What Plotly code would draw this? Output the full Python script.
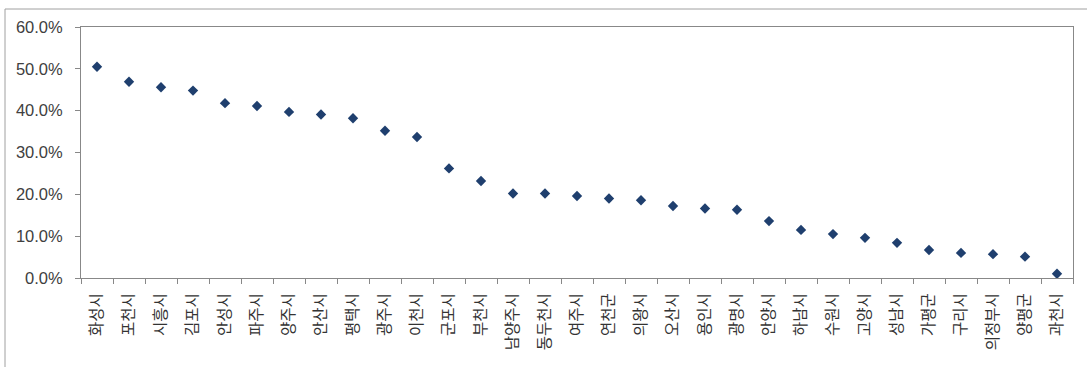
import plotly.graph_objects as go

cities = ["화성시", "포천시", "시흥시", "김포시", "안성시", "파주시", "양주시", "안산시",
          "평택시", "광주시", "이천시", "군포시", "부천시", "남양주시", "동두천시", "여주시",
          "연천군", "의왕시", "오산시", "용인시", "광명시", "안양시", "하남시", "수원시",
          "고양시", "성남시", "가평군", "구리시", "의정부시", "양평군", "과천시"]
values = [50.5, 46.9, 45.6, 44.8, 41.8, 41.1, 39.7, 39.1, 38.2, 35.2, 33.7, 26.2, 23.2,
          20.2, 20.2, 19.6, 19.0, 18.6, 17.2, 16.6, 16.3, 13.6, 11.5, 10.5, 9.6, 8.4,
          6.7, 6.0, 5.7, 5.1, 1.0]
y_ticks = [0, 0.1, 0.2, 0.3, 0.4, 0.5, 0.6]

fig = go.Figure()
fig.add_trace(go.Scatter(
    x=cities, y=[v / 100 for v in values], mode="markers",
    marker=dict(symbol="diamond", size=8, color="#1f3f6e"),
    showlegend=False,
))

W, H = 1087, 367
ml, mr, mt, mb = 81, 14, 27, 89
fig.update_layout(
    width=W, height=H,
    margin=dict(l=ml, r=mr, t=mt, b=mb),
    paper_bgcolor="white", plot_bgcolor="white",
    font=dict(family="Liberation Sans, Arial, sans-serif", color="#404040"),
    xaxis=dict(
        type="category", showgrid=False, tickangle=-90,
        tickson="boundaries", ticks="outside", ticklen=5, tickcolor="#888888",
        showline=True, linecolor="#888888", linewidth=1, mirror=True,
        tickfont=dict(family="Noto Sans CJK KR", size=15.5, color="#333333"),
        ticklabelstandoff=8,
        range=[-0.5, len(cities) - 0.5],
    ),
    yaxis=dict(
        range=[0, 0.6], tickvals=y_ticks, tickformat=".1%",
        showgrid=False, zeroline=False,
        ticks="outside", ticklen=5, tickcolor="#888888",
        showline=True, linecolor="#888888", linewidth=1, mirror=True,
        tickfont=dict(size=16.5, color="#404040"),
        ticklabelstandoff=9,
    ),
)

# outer chart frame (top and left edges visible in the crop)
x0 = (5 - ml) / (W - ml - mr)
y_top = (H - 9 - mb) / (H - mt - mb)
fig.add_shape(type="line", xref="paper", yref="paper", x0=x0, x1=1.2, y0=y_top, y1=y_top,
              line=dict(color="#a0a0a0", width=1))
fig.add_shape(type="line", xref="paper", yref="paper", x0=x0, x1=x0, y0=-1, y1=y_top,
              line=dict(color="#a0a0a0", width=1))

fig.write_html("out.html")
